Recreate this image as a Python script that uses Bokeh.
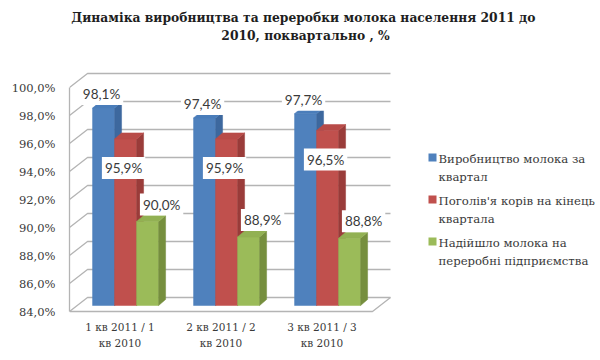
from bokeh.plotting import figure
from bokeh.models import Range1d, FixedTicker
from bokeh.core.properties import value
from bokeh.embed import file_html
from bokeh.resources import INLINE

# ---------------- data ----------------
title_lines = ["Динаміка виробництва та переробки молока населення  2011 до",
               "2010, поквартально , %"]
categories = ["1 кв 2011 / 1\nкв 2010", "2 кв 2011 / 2\nкв 2010", "3 кв 2011 / 3\nкв 2010"]
series_names = ["Виробництво молока за\nквартал",
                "Поголів'я корів на кінець\nквартала",
                "Надійшло молока на\nпереробні підприємства"]
production = [98.1, 97.4, 97.7]
cattle = [95.9, 95.9, 96.5]
processing = [90.0, 88.9, 88.8]
y_ticks = [84, 86, 88, 90, 92, 94, 96, 98, 100]
y_tick_labels = ["84,0%", "86,0%", "88,0%", "90,0%", "92,0%", "94,0%", "96,0%", "98,0%", "100,0%"]

series = [production, cattle, processing]

# ---------------- styling / geometry ----------------
front_colors = ["#4F81BD", "#C0504D", "#9BBB59"]
side_colors = ["#3D689E", "#9A3C3A", "#768F3E"]
top_colors = ["#4A7DBA", "#B84B48", "#92B153"]
grid_color = "#B4B4B4"
text_color = "#3a3a3a"

W, H = 600, 360
BORDER_L, BORDER_T, BORDER_B = 69, 0, 44
PX_X = 101.0      # px per category
PX_Y = 14.0       # px per 1 %
FRAME_W = W - BORDER_L
FRAME_H = H - BORDER_T - BORDER_B
Y_START = 84 - 5 / PX_Y
Y_END = Y_START + FRAME_H / PX_Y
X_END = FRAME_W / PX_X

WALL_DX = 18 / PX_X
WALL_DY = 14 / PX_Y
BAR_OFF_X = 7.7 / PX_X
BAR_OFF_Y = 6 / PX_Y
BAR_DX = 7 / PX_X
BAR_DY = 6 / PX_Y
BAR_W = 0.218
GROUP_PAD = 0.152
BASE = y_ticks[0]
NCAT = len(categories)


def px_to_x(px):
    return (px - BORDER_L) / PX_X


def px_to_y(py):
    return Y_END - (py - BORDER_T) / PX_Y


p = figure(width=W, height=H, output_backend="svg", toolbar_location=None,
           x_range=Range1d(0, X_END), y_range=Range1d(Y_START, Y_END),
           min_border_left=BORDER_L, min_border_right=0,
           min_border_top=BORDER_T, min_border_bottom=BORDER_B)
p.background_fill_color = "white"
p.border_fill_color = "white"
p.outline_line_color = None
p.grid.visible = False

# title (two centred lines)
TITLE_CX, TITLE_Y1, TITLE_STEP = 305, 17, 18
p.text([px_to_x(TITLE_CX)] * 2, [px_to_y(TITLE_Y1 + k * TITLE_STEP) for k in range(2)],
       text=title_lines, text_align="center", text_baseline="middle",
       text_font=value("DejaVu Serif"), text_font_size="12.3px", text_font_style="bold",
       text_color="#1e1e1e")

# y axis
ya = p.yaxis[0]
ya.ticker = FixedTicker(ticks=y_ticks)
ya.major_label_overrides = {t: l for t, l in zip(y_ticks, y_tick_labels)}
ya.bounds = (y_ticks[0], y_ticks[-1])
ya.axis_line_color = grid_color
ya.axis_line_width = 1.3
ya.major_tick_line_color = None
ya.minor_tick_line_color = None
ya.major_tick_out = 0
ya.major_tick_in = 0
ya.major_label_standoff = 14
ya.major_label_text_font = "DejaVu Serif"
ya.major_label_text_font_size = "11.5px"
ya.major_label_text_color = text_color

# x axis
xa = p.xaxis[0]
cat_pos = [i + 0.5 for i in range(NCAT)]
xa.ticker = FixedTicker(ticks=cat_pos)
xa.major_label_overrides = {c: l for c, l in zip(cat_pos, categories)}
xa.axis_line_color = None
xa.major_tick_line_color = None
xa.minor_tick_line_color = None
xa.major_tick_out = 0
xa.major_tick_in = 0
xa.major_label_standoff = 4
xa.major_label_text_font = "DejaVu Serif"
xa.major_label_text_font_size = "10.5px"
xa.major_label_text_line_height = 1.4
xa.major_label_text_color = text_color

# floor fill
p.patch([0, NCAT, NCAT + WALL_DX, WALL_DX], [BASE, BASE, BASE + WALL_DY, BASE + WALL_DY],
        fill_color="white", line_color=None)

# walls: gridlines (side-wall slant + back-wall horizontal)
gx, gy = [], []
for t in y_ticks:
    gx.append([0, WALL_DX, NCAT + WALL_DX])
    gy.append([t, t + WALL_DY, t + WALL_DY])
p.multi_line(gx, gy, line_color=grid_color, line_width=1.3)
# floor front and right edges
p.line([0, NCAT, NCAT + WALL_DX], [BASE, BASE, BASE + WALL_DY], line_color=grid_color, line_width=1.3)

# bars
for j, vals in enumerate(series):
    lefts = [i + GROUP_PAD + j * BAR_W + BAR_OFF_X for i in range(NCAT)]
    rights = [l + BAR_W for l in lefts]
    bottoms = [BASE + BAR_OFF_Y] * NCAT
    tops = [v + BAR_OFF_Y for v in vals]
    p.quad(left=lefts, right=rights, bottom=bottoms, top=tops,
           fill_color=front_colors[j], line_color=front_colors[j], line_width=0.5)
    sxs = [[rr, rr + BAR_DX, rr + BAR_DX, rr] for rr in rights]
    sys_ = [[b, b + BAR_DY, t + BAR_DY, t] for b, t in zip(bottoms, tops)]
    p.patches(sxs, sys_, fill_color=side_colors[j], line_color=side_colors[j], line_width=0.5)
    txs = [[l, l + BAR_DX, rr + BAR_DX, rr] for l, rr in zip(lefts, rights)]
    tys = [[t, t + BAR_DY, t + BAR_DY, t] for t in tops]
    p.patches(txs, tys, fill_color=top_colors[j], line_color=top_colors[j], line_width=0.5)

# data labels
label_dx = [-2, -2, 14]
label_dy = [-14, 29, -17]
for j, vals in enumerate(series):
    xs = [i + GROUP_PAD + j * BAR_W + BAR_OFF_X + BAR_W / 2 for i in range(NCAT)]
    ys = [v + BAR_OFF_Y for v in vals]
    txt = [("%.1f" % v).replace(".", ",") + "%" for v in vals]
    p.text(xs, ys, text=txt, x_offset=label_dx[j], y_offset=label_dy[j],
           text_align="center", text_baseline="middle",
           text_font=value("Lato"), text_font_size="13.5px", text_color=text_color,
           background_fill_color="white", padding=3)

# legend (drawn as glyphs so the swatch sits on the first text line)
LEG_SWATCH_X, LEG_TEXT_X = 432, 438
LEG_FIRST_Y, LEG_STEP = 159, 42
n = len(series_names)
p.scatter([px_to_x(LEG_SWATCH_X)] * n,
          [px_to_y(LEG_FIRST_Y - 2 + k * LEG_STEP) for k in range(n)],
          marker="square", size=8, fill_color=front_colors, line_color=None)
p.text([px_to_x(LEG_TEXT_X)] * n,
       [px_to_y(LEG_FIRST_Y - 8 + k * LEG_STEP) for k in range(n)],
       text=series_names, text_align="left", text_baseline="top",
       text_font=value("DejaVu Serif"), text_font_size="11.7px",
       text_line_height=1.3, text_color=text_color)

open("out.html", "w").write(file_html(p, INLINE))
